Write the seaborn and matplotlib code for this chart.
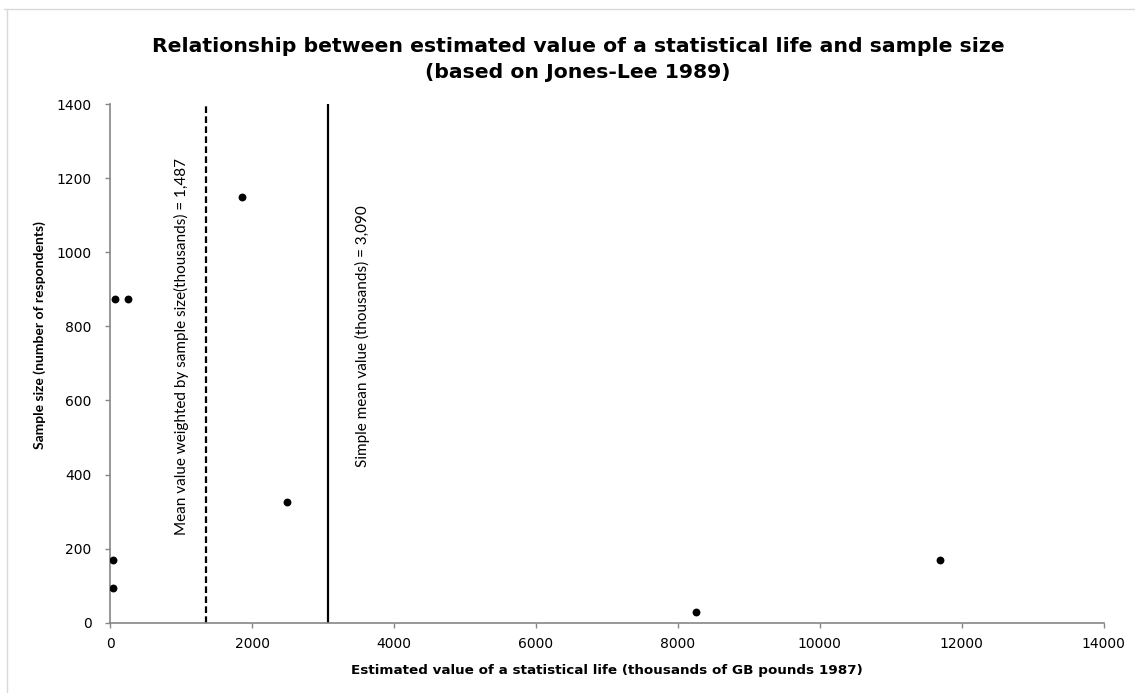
import matplotlib
matplotlib.use("Agg")
import matplotlib.pyplot as plt
import seaborn as sns
import pandas as pd
from matplotlib.lines import Line2D

# Data
vsl_values = [71, 245, 1860, 2490, 45, 45, 8250, 11700]
sample_sizes = [873, 873, 1150, 325, 170, 94, 30, 168]
weighted_mean_pos = 1345
simple_mean_pos = 3075
weighted_label = "Mean value weighted by sample size(thousands) = 1,487"
simple_label = "Simple mean value (thousands) = 3,090"
x_ticks = [0, 2000, 4000, 6000, 8000, 10000, 12000, 14000]
y_ticks = [0, 200, 400, 600, 800, 1000, 1200, 1400]

df = pd.DataFrame({"vsl": vsl_values, "n": sample_sizes})

sns.set_style("white")
plt.rcParams["font.family"] = ["Lato", "DejaVu Sans"]
plt.rcParams["text.color"] = "black"
plt.rcParams["axes.labelcolor"] = "black"
plt.rcParams["xtick.labelcolor"] = "black"
plt.rcParams["ytick.labelcolor"] = "black"

W, H = 1135, 693
AX_L, AX_R, AX_T, AX_B = 110.3, 1103.7, 104.0, 622.7
fig = plt.figure(figsize=(W / 100, H / 100), dpi=100)
ax = fig.add_axes([AX_L / W, 1 - AX_B / H, (AX_R - AX_L) / W, (AX_B - AX_T) / H])

sns.scatterplot(data=df, x="vsl", y="n", ax=ax, color="black", s=32,
                edgecolor="black", linewidth=0, zorder=3)

ax.axvline(weighted_mean_pos, color="black", lw=1.6, linestyle=(0, (3, 1.5)), zorder=2)
ax.axvline(simple_mean_pos, color="black", lw=1.6, zorder=2)

ax.text(1010, 237, weighted_label, rotation=90, ha="center", va="bottom",
        fontsize=11, color="black")
ax.text(3547, 420, simple_label, rotation=90, ha="center", va="bottom",
        fontsize=11, color="black")

ax.set_xlim(0, 14000)
ax.set_ylim(0, 1400)
ax.set_xticks(x_ticks)
ax.set_yticks(y_ticks)
ax.tick_params(axis="both", which="major", direction="out", length=3.6, width=1,
               color="#868686", labelcolor="black", bottom=True, left=True)
ax.tick_params(axis="x", pad=7)
ax.tick_params(axis="y", pad=10)
for lab in ax.get_xticklabels() + ax.get_yticklabels():
    lab.set_fontfamily("DejaVu Sans")
    lab.set_fontsize(10)

for side in ["top", "right"]:
    ax.spines[side].set_visible(False)
for side in ["left", "bottom"]:
    ax.spines[side].set_color("#868686")
    ax.spines[side].set_linewidth(1.2)

ax.set_xlabel("Estimated value of a statistical life (thousands of GB pounds 1987)",
              fontsize=9.7, fontweight="bold", family="DejaVu Sans", labelpad=9,
              color="black")
ax.set_ylabel("Sample size (number of respondents)", fontsize=10, fontweight="bold",
              color="black")
ax.yaxis.set_label_coords((40 - AX_L) / (AX_R - AX_L), (AX_B - 335) / (AX_B - AX_T))
ax.yaxis.label.set_va("center")

fig.text(578 / W, 1 - 47 / H,
         "Relationship between estimated value of a statistical life and sample size",
         ha="center", va="center", fontsize=14.7, fontweight="bold",
         family="DejaVu Sans", color="black")
fig.text(578 / W, 1 - 73 / H, "(based on Jones-Lee 1989)", ha="center", va="center",
         fontsize=14.7, fontweight="bold", family="DejaVu Sans", color="black")

# faint chart border (top and left)
fig.add_artist(Line2D([4 / W, 1], [1 - 9 / H, 1 - 9 / H], color="#d9d9d9", lw=1,
                      transform=fig.transFigure))
fig.add_artist(Line2D([7 / W, 7 / W], [0, 1 - 9 / H], color="#d9d9d9", lw=1,
                      transform=fig.transFigure))

fig.savefig("out.png", dpi=100)
